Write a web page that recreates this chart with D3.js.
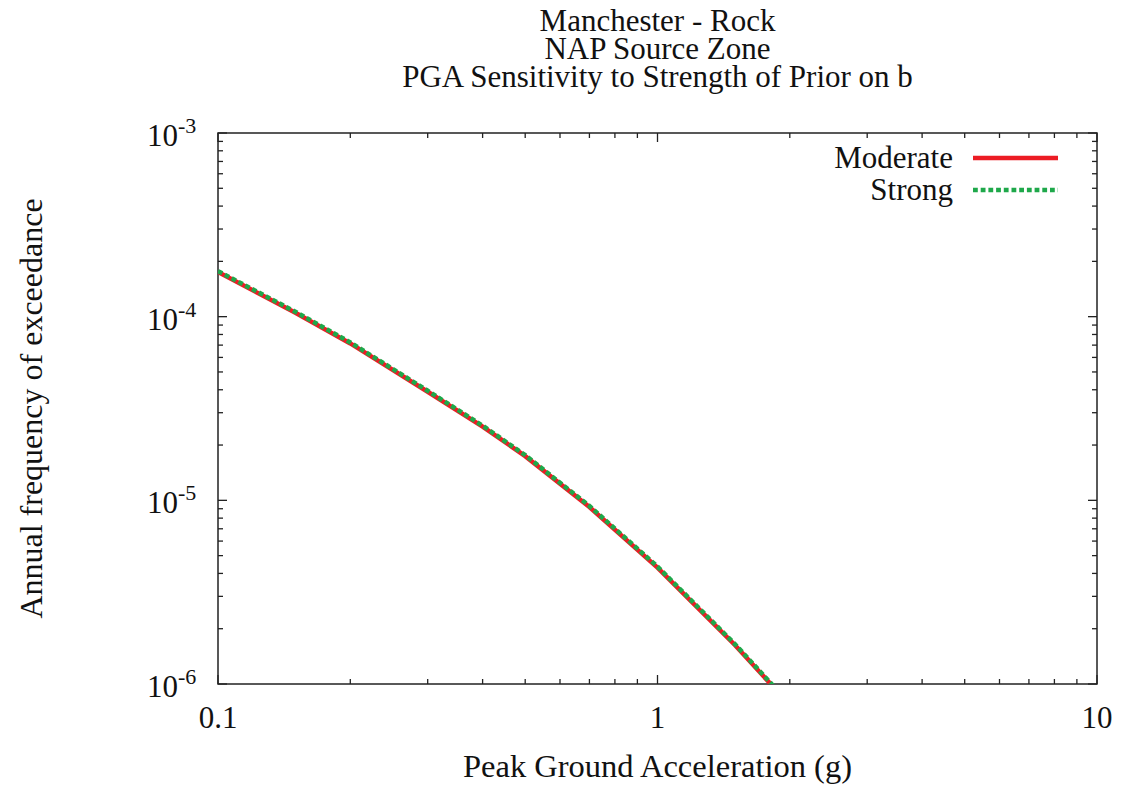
<!DOCTYPE html>
<html>
<head>
<meta charset="utf-8">
<script src="https://cdn.jsdelivr.net/npm/d3@7"></script>
<style>
  html, body { margin: 0; padding: 0; background: #fff; }
  svg { display: block; }
  text { font-family: "Liberation Serif", "DejaVu Serif", serif; fill: #111; }
</style>
</head>
<body>
<svg id="chart" width="1123" height="787"></svg>
<script>
// Hazard curves: annual frequency of exceedance vs peak ground acceleration
const titleLines = ["Manchester - Rock", "NAP Source Zone", "PGA Sensitivity to Strength of Prior on b"];
const pga = [0.1, 0.15, 0.2, 0.3, 0.4, 0.5, 0.7, 1.0, 1.5, 2.0];
const moderate = [1.75e-4, 1.05e-4, 7.15e-5, 3.9e-5, 2.52e-5, 1.74e-5, 9.2e-6, 4.3e-6, 1.63e-6, 7.7e-7];
const strong = [1.77e-4, 1.063e-4, 7.24e-5, 3.95e-5, 2.55e-5, 1.762e-5, 9.32e-6, 4.36e-6, 1.65e-6, 7.8e-7];
const seriesNames = ["Moderate", "Strong"];
const xTickValues = [0.1, 1, 10];
const xTickLabels = ["0.1", "1", "10"];
const yTickExponents = [-3, -4, -5, -6];

const FONT = "Liberation Serif, DejaVu Serif, serif";
const svg = d3.select("#chart");
const m = { left: 218, right: 1097, top: 133, bottom: 684 };

const x = d3.scaleLog().domain([0.1, 10]).range([m.left, m.right]);
const y = d3.scaleLog().domain([1e-6, 1e-3]).range([m.bottom, m.top]);

const axisColor = "#222";
const majorLen = 9, minorLen = 5;

// minor + major ticks, mirrored on all four sides
const xMinor = [], yMinor = [];
for (let d = -1; d < 1; d++) for (let k = 2; k <= 9; k++) xMinor.push(k * Math.pow(10, d));
for (let d = -6; d < -3; d++) for (let k = 2; k <= 9; k++) yMinor.push(k * Math.pow(10, d));

const ticks = svg.append("g").attr("stroke", axisColor).attr("stroke-width", 1.3);
function xTick(v, len) {
  ticks.append("line").attr("x1", x(v)).attr("x2", x(v)).attr("y1", m.bottom).attr("y2", m.bottom - len);
  ticks.append("line").attr("x1", x(v)).attr("x2", x(v)).attr("y1", m.top).attr("y2", m.top + len);
}
function yTick(v, len) {
  ticks.append("line").attr("y1", y(v)).attr("y2", y(v)).attr("x1", m.left).attr("x2", m.left + len);
  ticks.append("line").attr("y1", y(v)).attr("y2", y(v)).attr("x1", m.right).attr("x2", m.right - len);
}
xMinor.forEach(v => xTick(v, minorLen));
xTickValues.forEach(v => xTick(v, majorLen));
yMinor.forEach(v => yTick(v, minorLen));
yTickExponents.forEach(e => yTick(Math.pow(10, e), majorLen));

// frame
svg.append("rect")
  .attr("x", m.left).attr("y", m.top)
  .attr("width", m.right - m.left).attr("height", m.bottom - m.top)
  .attr("fill", "none").attr("stroke", axisColor).attr("stroke-width", 1.5);

// tick labels
svg.append("g").selectAll("text").data(xTickValues).join("text")
  .attr("x", d => x(d)).attr("y", 728)
  .attr("text-anchor", "middle").attr("font-size", 31).attr("font-family", FONT)
  .text((d, i) => xTickLabels[i]);

const yl = svg.append("g").selectAll("text").data(yTickExponents).join("text")
  .attr("x", 147).attr("y", d => y(Math.pow(10, d)) + 13)
  .attr("font-size", 31).attr("font-family", FONT);
yl.append("tspan").text("10");
yl.append("tspan").attr("dy", -13).attr("font-size", 22).text(d => String(d));

// three-line title as one text block
const title = svg.append("text")
  .attr("x", (m.left + m.right) / 2).attr("y", 31)
  .attr("text-anchor", "middle").attr("font-size", 31).attr("font-family", FONT);
title.selectAll("tspan").data(titleLines).join("tspan")
  .attr("x", (m.left + m.right) / 2)
  .attr("dy", (d, i) => i === 0 ? 0 : 28)
  .text(d => d);

// axis titles
svg.append("text").attr("x", (m.left + m.right) / 2).attr("y", 777)
  .attr("text-anchor", "middle").attr("font-size", 32.5).attr("font-family", FONT)
  .text("Peak Ground Acceleration (g)");
svg.append("text")
  .attr("transform", `translate(42,${(m.top + m.bottom) / 2}) rotate(-90)`)
  .attr("text-anchor", "middle").attr("font-size", 32).attr("font-family", FONT)
  .text("Annual frequency of exceedance");

// curves
svg.append("clipPath").attr("id", "plotClip").append("rect")
  .attr("x", m.left).attr("y", m.top)
  .attr("width", m.right - m.left).attr("height", m.bottom - m.top);

const line = d3.line().x(d => x(d[0])).y(d => y(d[1]));
const styles = [
  { color: "#ec1c24", width: 4.5, dash: null },
  { color: "#1ea84a", width: 4.5, dash: "4.8,2.9" }
];
const series = [moderate, strong];
const plot = svg.append("g").attr("clip-path", "url(#plotClip)");
series.forEach((vals, i) => {
  plot.append("path")
    .datum(pga.map((p, j) => [p, vals[j]]))
    .attr("d", line)
    .attr("fill", "none")
    .attr("stroke", styles[i].color)
    .attr("stroke-width", styles[i].width)
    .attr("stroke-dasharray", styles[i].dash);
});

// legend
const legend = svg.append("g");
seriesNames.forEach((name, i) => {
  const ly = 158 + i * 32;
  legend.append("text").attr("x", 953).attr("y", ly + 10)
    .attr("text-anchor", "end").attr("font-size", 31).attr("font-family", FONT).text(name);
  legend.append("line")
    .attr("x1", 973).attr("x2", 1058).attr("y1", ly).attr("y2", ly)
    .attr("stroke", styles[i].color).attr("stroke-width", styles[i].width)
    .attr("stroke-dasharray", styles[i].dash);
});
</script>
</body>
</html>
